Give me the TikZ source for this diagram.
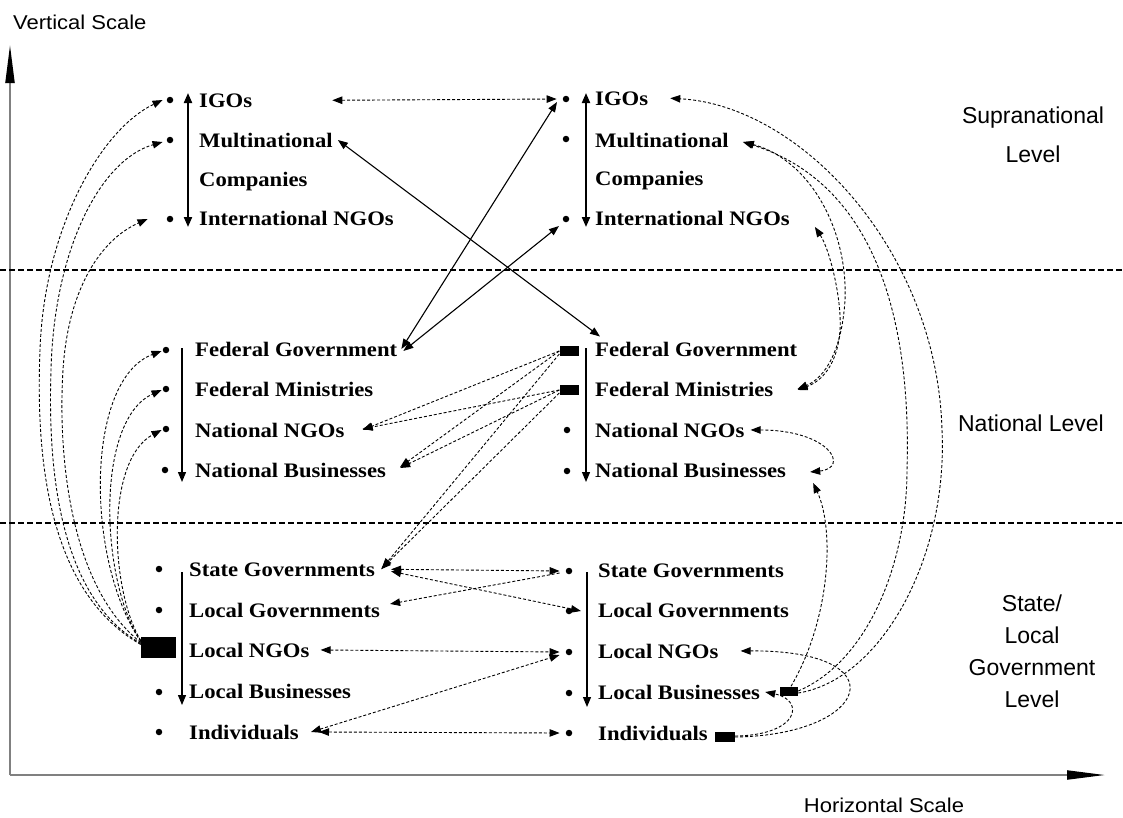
\documentclass[tikz,border=0pt]{standalone}
\usepackage{fontspec}
\setmainfont{Liberation Serif}
\newfontfamily\itemfont{Liberation Serif}[FakeStretch=1.1]
\newfontfamily\lvlfont{Liberation Sans}
\newfontfamily\sclfont{Liberation Sans}[FakeStretch=1.1]
\usetikzlibrary{arrows.meta}
\tikzset{
 item/.style={anchor=base west,inner sep=0pt,font=\itemfont\bfseries\fontsize{20.6}{22}\selectfont},
 dotn/.style={circle,fill=black,inner sep=0pt,minimum size=6.5pt},
 blkn/.style={rectangle,fill=black,inner sep=0pt},
 lvl/.style={align=center,inner sep=0pt,font=\lvlfont\fontsize{23}{32}\selectfont},
 lvlw/.style={align=center,inner sep=0pt,font=\lvlfont\fontsize{23}{39}\selectfont},
 scl/.style={inner sep=0pt,font=\sclfont\fontsize{20}{22}\selectfont},
 tipA/.style={-{Triangle[length=10pt,width=7.5pt]}},
 tipB/.style={{Triangle[length=10pt,width=7.5pt]}-{Triangle[length=10pt,width=7.5pt]}},
 con/.style={line width=1.1pt},
 dsh/.style={line width=0.9pt,dash pattern=on 3pt off 2pt},
 sepline/.style={line width=1.5pt,dash pattern=on 6pt off 3pt},
 axisline/.style={line width=2pt,draw=black!50,-{Triangle[length=38pt,width=9pt,color=black]}},
 bigcol/.style={line width=2pt,{Triangle[length=10pt,width=8pt]}-{Triangle[length=10pt,width=8pt]}},
 smallcol/.style={line width=1.2pt,-{Triangle[length=10pt,width=8pt]}},
}
\begin{document}
\begin{tikzpicture}[x=1pt,y=-1pt]
\path[fill=white] (0,0) rectangle (1123,817);
\useasboundingbox (0,0) rectangle (1123,817);

% axes
\coordinate (org) at (10,775);
\coordinate (ytop) at (10,45);
\coordinate (xend) at (1105,775);
\draw[axisline] (org) -- (ytop);
\draw[axisline] (org) -- (xend);
\node[scl,anchor=west] (vscale) at (13,22) {Vertical Scale};
\node[scl] (hscale) at (884,805) {Horizontal Scale};

% separators
\coordinate (s1a) at (0,270); \coordinate (s1b) at (1123,270);
\coordinate (s2a) at (0,523); \coordinate (s2b) at (1123,523);
\draw[sepline] (s1a) -- (s1b);
\draw[sepline] (s2a) -- (s2b);

% level labels
\node[lvlw] (lsup) at (1033,135) {Supranational\\Level};
\node[lvl] (lnat) at (1031,423) {National Level};
\node[lvl] (lsta) at (1032,651) {State/\\Local\\Government\\Level};

% ---- column A, supranational
\node[dotn] (aIGOd) at (170,100) {};
\node[dotn] (aMNCd) at (170,140) {};
\node[dotn] (aINGd) at (170,219) {};
\node[item] (aIGO) at (199,107) {IGOs};
\node[item] (aMNC) at (199,147) {Multinational};
\node[item] (aCOM) at (199,186) {Companies};
\node[item] (aING) at (199,225) {International NGOs};
\coordinate (aSt) at (188,93); \coordinate (aSb) at (188,227);
\draw[bigcol] (aSt) -- (aSb);

% ---- column B, supranational
\node[dotn] (bIGOd) at (566,99) {};
\node[dotn] (bMNCd) at (566,139) {};
\node[dotn] (bINGd) at (566,219) {};
\node[item] (bIGO) at (595,105) {IGOs};
\node[item] (bMNC) at (595,147) {Multinational};
\node[item] (bCOM) at (595,185) {Companies};
\node[item] (bING) at (595,225) {International NGOs};
\coordinate (bSt) at (586,93); \coordinate (bSb) at (586,227);
\draw[bigcol] (bSt) -- (bSb);

% ---- column A, national
\node[dotn] (aFGd) at (166,350) {};
\node[dotn] (aFMd) at (166,389) {};
\node[dotn] (aNNGd) at (166,429) {};
\node[dotn] (aNBd) at (165,470) {};
\node[item] (aFG) at (195,356) {Federal Government};
\node[item] (aFM) at (195,396) {Federal Ministries};
\node[item] (aNNG) at (195,437) {National NGOs};
\node[item] (aNB) at (195,477) {National Businesses};
\coordinate (aNt) at (182,348); \coordinate (aNb) at (182,482);
\draw[smallcol] (aNt) -- (aNb);

% ---- column B, national
\node[blkn,minimum width=19pt,minimum height=10pt] (bFGr) at (569,351) {};
\node[blkn,minimum width=19pt,minimum height=10pt] (bFMr) at (569,390) {};
\node[dotn] (bNNGd) at (567,430) {};
\node[dotn] (bNBd) at (567,471) {};
\node[item] (bFG) at (595,356) {Federal Government};
\node[item] (bFM) at (595,396) {Federal Ministries};
\node[item] (bNNG) at (595,437) {National NGOs};
\node[item] (bNB) at (595,477) {National Businesses};
\coordinate (bNt) at (586,348); \coordinate (bNb) at (586,482);
\draw[smallcol] (bNt) -- (bNb);

% ---- column A, state/local
\node[dotn] (aSGd) at (159,569) {};
\node[dotn] (aLGd) at (159,610) {};
\node[blkn,minimum width=35pt,minimum height=21pt] (aLNr) at (158.5,647.5) {};
\node[dotn] (aLBd) at (159,692) {};
\node[dotn] (aINDd) at (159,732) {};
\node[item] (aSG) at (189,576) {State Governments};
\node[item] (aLG) at (189,617) {Local Governments};
\node[item] (aLN) at (189,657) {Local NGOs};
\node[item] (aLB) at (189,698) {Local Businesses};
\node[item] (aIND) at (189,739) {Individuals};
\coordinate (aLt) at (182,572); \coordinate (aLb) at (182,705);
\draw[smallcol] (aLt) -- (aLb);

% ---- column B, state/local
\node[dotn] (bSGd) at (569,571) {};
\node[dotn] (bLGd) at (569,611) {};
\node[dotn] (bLNd) at (569,652) {};
\node[dotn] (bLBd) at (569,693) {};
\node[dotn] (bINDd) at (569,733) {};
\node[item] (bSG) at (598,577) {State Governments};
\node[item] (bLG) at (598,617) {Local Governments};
\node[item] (bLN) at (598,658) {Local NGOs};
\node[item] (bLB) at (598,699) {Local Businesses};
\node[item] (bIND) at (598,740) {Individuals};
\node[blkn,minimum width=18pt,minimum height=9pt] (bLBr) at (789,691) {};
\node[blkn,minimum width=20pt,minimum height=10pt] (bINDr) at (725,737) {};
\coordinate (bLt) at (587,572); \coordinate (bLb) at (587,707);
\draw[smallcol] (bLt) -- (bLb);

% ---- solid connectors
\draw[con,tipB] ([xshift=5pt]aMNC.east) -- ([xshift=5pt,yshift=5pt]bFG.north west);
\draw[con,tipB] ([xshift=4pt]aFG.east) -- ([xshift=-9pt,yshift=-3pt]bIGOd.center);
\draw[con,tipB] ([xshift=6pt,yshift=-2pt]aFG.east) -- ([xshift=-7pt,yshift=-7pt]bINGd.center);

% ---- dashed straight connectors
\draw[dsh,tipB] ([xshift=80pt]aIGO.east) -- ([xshift=-6pt]bIGOd.west);
\draw[dsh,tipA] (bFGr.west) -- ([xshift=18pt]aNNG.east);
\draw[dsh,tipA] (bFGr.west) -- ([xshift=14pt,yshift=3pt]aNB.east);
\draw[dsh,tipA] ([yshift=-3pt]bFGr.west) -- ([xshift=7pt,yshift=1pt]aSG.east);
\draw[dsh,tipA] (bFMr.west) -- ([xshift=18pt,yshift=1pt]aNNG.east);
\draw[dsh,tipA] (bFMr.west) -- ([xshift=14pt,yshift=2pt]aNB.east);
\draw[dsh,tipA] ([yshift=-3pt]bFMr.west) -- ([xshift=6pt]aSG.east);
\draw[dsh,tipB] ([xshift=16pt]aSG.east) -- ([xshift=-6pt]bSGd.west);
\draw[dsh,tipB] ([xshift=16pt,yshift=-2pt]aSG.east) -- ([xshift=12pt]bLGd.center);
\draw[dsh,tipA] ([xshift=-6pt,yshift=-2pt]bSGd.west) -- ([xshift=10pt,yshift=6pt]aLG.east);
\draw[dsh,tipB] ([xshift=11pt]aLN.east) -- ([xshift=-6pt]bLNd.west);
\draw[dsh,tipB] ([xshift=12pt]aIND.east) -- ([xshift=-6pt,yshift=-3pt]bLNd.west);
\draw[dsh,tipB] ([xshift=20pt]aIND.east) -- ([xshift=-6pt]bINDd.west);

% ---- left curves from Local NGOs (A)
\draw[dsh,tipA] ([yshift=3pt]aLNr.west) .. controls (45,590) and (36,450) .. (40,350)
   .. controls (44,230) and (100,130) .. ([xshift=-4pt]aIGOd.west);
\draw[dsh,tipA] ([yshift=4pt]aLNr.west) .. controls (56,595) and (48,460) .. (51,370)
   .. controls (54,250) and (100,160) .. ([xshift=-4pt,yshift=-2pt]aMNCd.west);
\draw[dsh,tipA] ([yshift=5pt]aLNr.west) .. controls (68,585) and (58,450) .. (63,370)
   .. controls (68,290) and (100,240) .. ([xshift=-19pt]aINGd.west);
\draw[dsh,tipA] ([yshift=6pt]aLNr.west) .. controls (85,560) and (85,380) .. ([xshift=-1pt,yshift=-1pt]aFGd.west);
\draw[dsh,tipA] ([yshift=6pt]aLNr.west) .. controls (100,580) and (95,420) .. ([xshift=-1pt,yshift=-1pt]aFMd.west);
\draw[dsh,tipA] ([yshift=7pt]aLNr.west) .. controls (110,590) and (105,460) .. ([xshift=-1pt,yshift=-1pt]aNNGd.west);

% ---- right curves
\draw[dsh,tipA] ([yshift=-2pt]bLBr.east) .. controls (880,680) and (948,560) .. (942,430)
   .. controls (937,250) and (800,105) .. ([xshift=22pt]bIGO.east);
\draw[dsh,tipA] (bLBr.east) .. controls (870,660) and (907,560) .. (907,470)
   .. controls (912,300) and (865,180) .. ([xshift=14pt,yshift=-2pt]bMNC.east);
\draw[dsh,tipB] ([xshift=15pt,yshift=-2pt]bMNC.east) .. controls (810,160) and (848,230) .. (845,300)
   .. controls (842,350) and (825,378) .. ([xshift=24pt]bFM.east);
\draw[dsh,tipB] ([xshift=25pt,yshift=-9pt]bING.east) .. controls (830,250) and (842,300) .. (840,330)
   .. controls (838,360) and (825,380) .. ([xshift=24pt,yshift=-1pt]bFM.east);
\draw[dsh,tipA] ([xshift=2pt]bLBr.north) .. controls (830,620) and (835,530) .. ([xshift=27pt,yshift=-13pt]bNB.east);
\draw[dsh,tipB] ([xshift=6pt]bNNG.east) .. controls (830,430) and (850,468) .. ([xshift=24pt,yshift=-2pt]bNB.east);
\draw[dsh,tipA] (bINDr.east) .. controls (870,735) and (900,650) .. ([xshift=22pt]bLN.east);
\draw[dsh,tipA] ([yshift=1pt]bINDr.east) .. controls (800,735) and (805,700) .. ([xshift=5pt]bLB.east);
\end{tikzpicture}
\end{document}
